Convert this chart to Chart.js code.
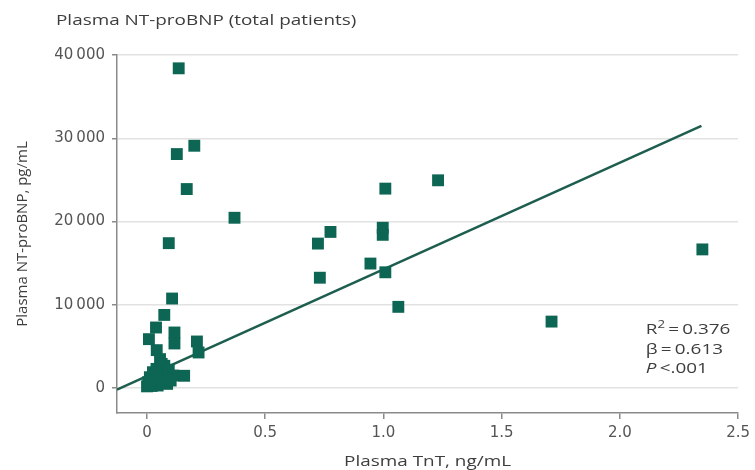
<!DOCTYPE html>
<html>
<head>
<meta charset="utf-8">
<script src="https://cdn.jsdelivr.net/npm/chart.js@4.4.1/dist/chart.umd.min.js"></script>
<style>
  html, body { margin: 0; padding: 0; background: #ffffff; }
  #wrap { width: 755px; height: 470px; position: relative; }
</style>
</head>
<body>
<div id="wrap"><canvas id="chart" width="755" height="470"></canvas></div>
<script>
// Plasma TnT (ng/mL) for each patient
const tntValues = [
  0.134, 0.200, 0.126, 0.168, 0.370, 0.092,
  1.231, 1.008, 0.997, 0.997, 0.776, 0.723, 0.731, 0.945, 1.008, 1.063,
  2.349, 1.711,
  0.106, 0.073, 0.038, 0.008, 0.116, 0.116, 0.211, 0.218, 0.041, 0.055, 0.073, 0.157,
  0.000, 0.005, 0.012, 0.020, 0.025, 0.032, 0.040, 0.045, 0.050, 0.062, 0.060,
  0.072, 0.080, 0.085, 0.092, 0.100, 0.110
];
// Plasma NT-proBNP (pg/mL) for each patient, same order
const ntproBnpValues = [
  38400, 29100, 28100, 23900, 20450, 17400,
  24950, 23950, 19250, 18400, 18750, 17350, 13250, 14950, 13900, 9750,
  16650, 7980,
  10750, 8780, 7270, 5870, 6670, 5350, 5590, 4270, 4550, 3470, 2670, 1470,
  200, 700, 1300, 250, 1900, 900, 2300, 300, 1400, 2900, 700,
  1900, 1200, 500, 2200, 900, 1500
];

// Regression line end points
const fitX = [-0.127, 2.345];
const fitY = [-200, 31500];

// Axis ticks
const xTickValues = [0, 0.5, 1.0, 1.5, 2.0, 2.5];
const xTickLabels = ['0', '0.5', '1.0', '1.5', '2.0', '2.5'];
const yTickValues = [0, 10000, 20000, 30000, 40000];
const yTickLabels = ['0', '10\u2009000', '20\u2009000', '30\u2009000', '40\u2009000'];

// Chart and axis titles
const chartTitle = 'Plasma NT-proBNP (total patients)';
const xTitle = 'Plasma TnT, ng/mL';
const yTitle = 'Plasma NT-proBNP, pg/mL';

// Statistics box
const statLines = [
  { parts: [{ t: 'R' }, { t: '2', sup: true }, { t: '\u2009=\u20090.376' }] },
  { parts: [{ t: '\u03b2\u2009=\u20090.613' }] },
  { parts: [{ t: 'P', italic: true }, { t: '\u2009<.001' }] }
];

const TICK_FONT = 'DejaVu Sans';
const TEXT_FONT = 'Open Sans';
const WIDE = 1.26;          // horizontal stretch of the wide lettering
const TEXT = '#3d3d3d';
const GREEN = '#0d6553';

const points = tntValues.map((x, i) => ({ x: x, y: ntproBnpValues[i] }));
const fitLine = fitX.map((x, i) => ({ x: x, y: fitY[i] }));

// draws text stretched horizontally, returns its drawn width
function wideText(ctx, text, x, y, font, align) {
  ctx.font = font;
  const w = ctx.measureText(text).width * WIDE;
  let left = x;
  if (align === 'center') left = x - w / 2;
  ctx.save();
  ctx.translate(left, y);
  ctx.scale(WIDE, 1);
  ctx.textAlign = 'left';
  ctx.fillText(text, 0, 0);
  ctx.restore();
  return w;
}

const overlayText = {
  id: 'overlayText',
  afterDraw(chart) {
    const ctx = chart.ctx;
    const area = chart.chartArea;
    ctx.save();
    ctx.fillStyle = TEXT;
    ctx.textBaseline = 'middle';

    wideText(ctx, chartTitle, 56, 21, `15px "${TEXT_FONT}"`, 'left');
    wideText(ctx, xTitle, (area.left + area.right) / 2, 462, `15px "${TEXT_FONT}"`, 'center');

    const x0 = chart.scales.x.getPixelForValue(2.11);
    let y = 330;
    statLines.forEach(line => {
      let x = x0;
      line.parts.forEach(p => {
        if (p.sup) {
          x += wideText(ctx, p.t, x, y - 5, `10.5px "${TEXT_FONT}"`, 'left');
        } else {
          x += wideText(ctx, p.t, x, y, `${p.italic ? 'italic ' : ''}15px "${TEXT_FONT}"`, 'left');
        }
      });
      y += 19.5;
    });
    ctx.restore();
  }
};

new Chart(document.getElementById('chart'), {
  type: 'scatter',
  data: {
    datasets: [
      {
        type: 'line',
        data: fitLine,
        borderColor: '#1d5e4f',
        borderWidth: 2.5,
        pointRadius: 0,
        fill: false,
        order: 2
      },
      {
        data: points,
        pointStyle: 'rect',
        pointRadius: 8.4,
        backgroundColor: GREEN,
        borderColor: GREEN,
        borderWidth: 0,
        order: 1
      }
    ]
  },
  options: {
    responsive: false,
    animation: false,
    layout: { padding: { top: 55, right: 13, left: 14, bottom: 0 } },
    plugins: {
      legend: { display: false },
      tooltip: { enabled: false }
    },
    scales: {
      x: {
        type: 'linear',
        min: -0.127,
        max: 2.5,
        afterBuildTicks(scale) { scale.ticks = xTickValues.map(v => ({ value: v })); },
        afterFit(scale) { scale.height = 57; },
        border: { display: true, color: '#8a8a8a', width: 1.5 },
        grid: { drawOnChartArea: false, drawTicks: true, tickLength: 6, tickColor: '#8a8a8a', lineWidth: 1.5 },
        ticks: {
          padding: 5,
          color: '#555',
          font: { family: TICK_FONT, size: 15 },
          maxRotation: 0,
          callback(value) {
            const i = xTickValues.indexOf(value);
            return i >= 0 ? xTickLabels[i] : '';
          }
        },
        title: { display: false, text: xTitle }
      },
      y: {
        type: 'linear',
        min: -3000,
        max: 40000,
        afterBuildTicks(scale) { scale.ticks = yTickValues.map(v => ({ value: v })); },
        afterFit(scale) { scale.width = 103; },
        border: { display: true, color: '#8a8a8a', width: 1.5 },
        grid: { color: '#e2e2e2', lineWidth: 1.5, drawTicks: true, tickLength: 5, tickColor: '#8a8a8a' },
        ticks: {
          padding: 7,
          color: '#555',
          font: { family: TICK_FONT, size: 15 },
          callback(value) {
            const i = yTickValues.indexOf(value);
            return i >= 0 ? yTickLabels[i] : '';
          }
        },
        title: {
          display: true,
          text: yTitle,
          color: TEXT,
          font: { family: TEXT_FONT, size: 15 },
          padding: { top: 0, bottom: 2 }
        }
      }
    }
  },
  plugins: [overlayText]
});
</script>
</body>
</html>
